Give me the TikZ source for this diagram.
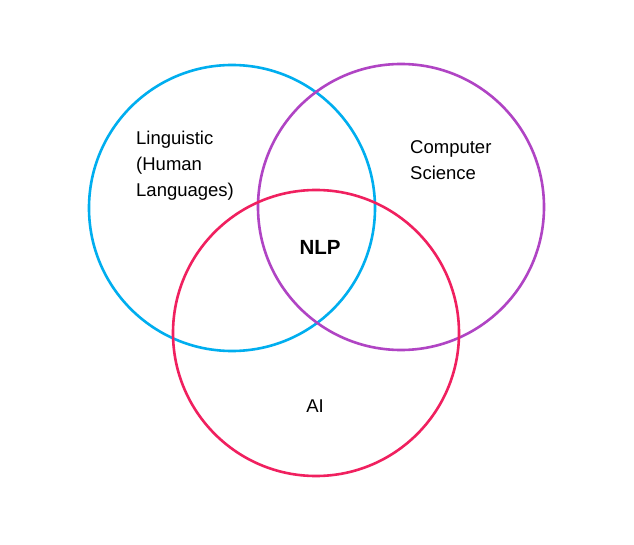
\documentclass[tikz,border=0pt]{standalone}
\usepackage{fontspec}
\setmainfont{Liberation Sans}
\definecolor{cblue}{HTML}{00AEEF}
\definecolor{cpurple}{HTML}{B044C4}
\definecolor{cred}{HTML}{F0205F}
\begin{document}
\begin{tikzpicture}[x=1pt,y=-1pt,
  ring/.style={draw=#1,line width=2.6pt,fill=none},
  lbl/.style={font=\fontsize{18.5}{26}\selectfont,align=left,inner sep=0pt}]
\useasboundingbox[fill=white] (0,0) rectangle (634,545);
\node[circle,ring=cblue,minimum size=286pt] (ling) at (232,208) {};
\node[circle,ring=cpurple,minimum size=286pt] (cs) at (401,207) {};
\node[circle,ring=cred,minimum size=286pt] (ai) at (316,333) {};
\node[lbl,anchor=north west] (tl) at (136,131) {Linguistic\\(Human\\Languages)};
\node[lbl,anchor=north west] (tc) at (410,140) {Computer\\Science};
\node[lbl,font=\fontsize{20.5}{24}\selectfont\bfseries] (nlp) at (320,247) {NLP};
\node[lbl] (tai) at (315,406) {AI};
\end{tikzpicture}
\end{document}
